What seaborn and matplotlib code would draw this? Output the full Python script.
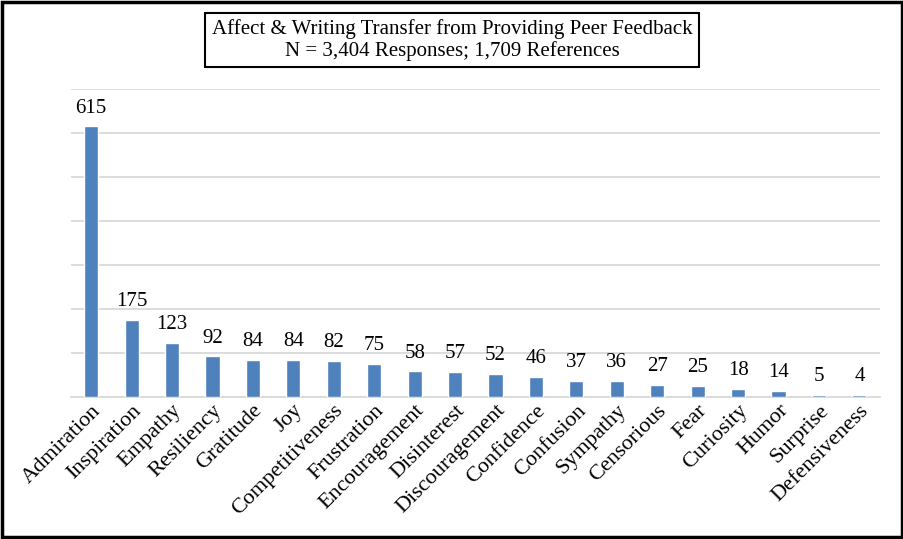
import numpy as np
import pandas as pd
import matplotlib.pyplot as plt
import seaborn as sns
from matplotlib.patches import Rectangle

categories = ["Admiration", "Inspiration", "Empathy", "Resiliency", "Gratitude", "Joy",
              "Competitiveness", "Frustration", "Encouragement", "Disinterest",
              "Discouragement", "Confidence", "Confusion", "Sympathy", "Censorious",
              "Fear", "Curiosity", "Humor", "Surprise", "Defensiveness"]
counts = [615, 175, 123, 92, 84, 84, 82, 75, 58, 57, 52, 46, 37, 36, 27, 25, 18, 14, 5, 4]

title_lines = ["Affect & Writing Transfer from Providing Peer Feedback",
               "N = 3,404 Responses; 1,709 References"]

sns.set_theme(style="white")
plt.rcParams["font.family"] = ["Liberation Serif", "DejaVu Serif"]

df = pd.DataFrame({"emotion": categories, "count": counts})

fig = plt.figure(figsize=(9.04, 5.39), dpi=100)
ax = fig.add_axes([0.0785, 0.2635, 0.8945, 0.5715])

sns.barplot(data=df, x="emotion", y="count", color="#4F81BD", width=0.35,
            saturation=1, ax=ax, zorder=3)

ax.set_ylim(0, 700)
ax.set_yticks(np.arange(0, 701, 100))
ax.yaxis.grid(True, color="#D9D9D9", linewidth=1.3, zorder=0)
ax.set_yticklabels([])
ax.tick_params(axis="y", length=0)
ax.tick_params(axis="x", length=0, pad=3)
ax.set_xlim(-0.5, len(categories) - 0.5)
ax.set_xlabel("")
ax.set_ylabel("")
for s in ["top", "right", "left"]:
    ax.spines[s].set_visible(False)
ax.spines["bottom"].set_color("#D9D9D9")
ax.spines["bottom"].set_linewidth(1.3)

ax.set_xticks(range(len(categories)))
ax.set_xticklabels(categories, rotation=45, ha="right", rotation_mode="anchor",
                   fontsize=16, color="black")

for i, v in enumerate(counts):
    ax.text(i, v + 20, str(v), ha="center", va="bottom", fontsize=15, color="black")

fig.text(0.5, 0.926, "\n".join(title_lines), ha="center", va="center", fontsize=15,
         linespacing=1.1, color="black",
         bbox=dict(boxstyle="square,pad=0.3", facecolor="white", edgecolor="black", linewidth=1.5))

fig.patches.append(Rectangle((0.002, 0.003), 0.996, 0.994, transform=fig.transFigure,
                             fill=False, edgecolor="black", linewidth=2.5))

fig.savefig("out.png", dpi=100)
